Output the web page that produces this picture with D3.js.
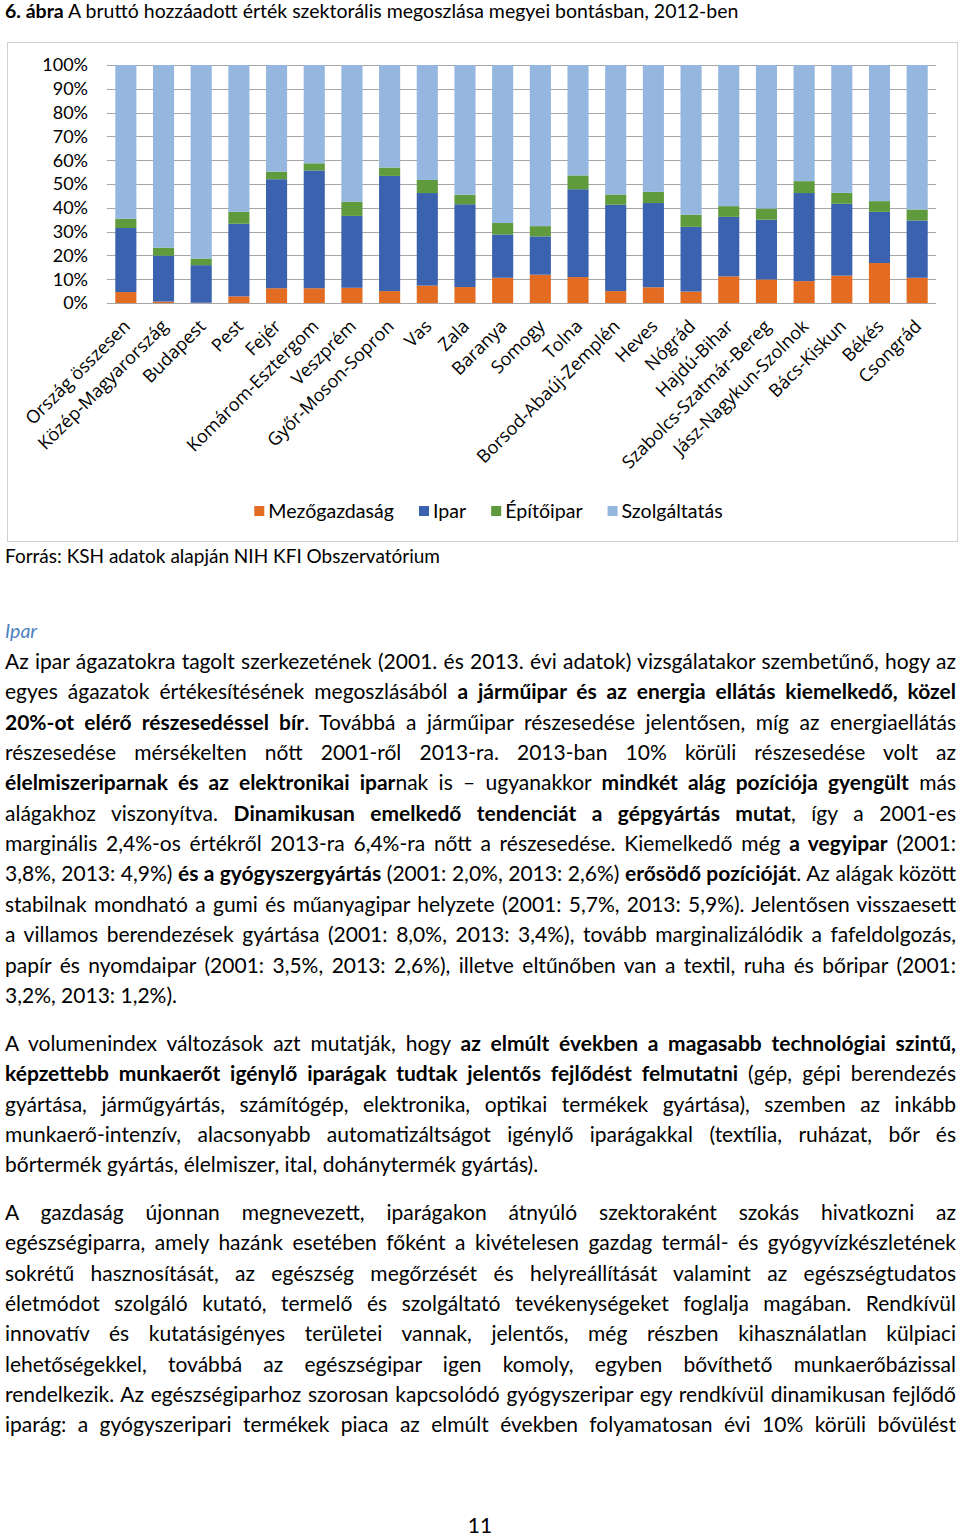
<!DOCTYPE html>
<html><head><meta charset="utf-8">
<script src="https://cdn.jsdelivr.net/npm/d3@7"></script>
<style>
body{margin:0;background:#fff;}
#page{position:relative;width:960px;height:1536px;font-family:Lato,'Carlito',sans-serif;color:#000;overflow:hidden;}
.ln{position:absolute;left:5px;white-space:nowrap;font-size:21px;line-height:30px;}
.ln b{font-weight:700;}
svg{position:absolute;left:0;top:0;}
</style></head><body><div id="page"></div>
<script>
// ---- chart data ----
const categories = ["Ország összesen","Közép-Magyarország","Budapest","Pest","Fejér","Komárom-Esztergom","Veszprém","Győr-Moson-Sopron","Vas","Zala","Baranya","Somogy","Tolna","Borsod-Abaúj-Zemplén","Heves","Nógrád","Hajdú-Bihar","Szabolcs-Szatmár-Bereg","Jász-Nagykun-Szolnok","Bács-Kiskun","Békés","Csongrád"];
const mezogazdasag = [4.6,0.6,0.1,2.8,6.2,6.2,6.4,5.0,7.3,6.7,10.6,11.9,10.9,5.0,6.6,4.8,11.2,9.9,9.2,11.5,16.8,10.6];
const ipar         = [26.9,19.3,15.8,30.5,45.8,49.5,30.2,48.4,38.9,34.8,18.2,16.1,36.9,36.3,35.4,27.2,25.0,25.1,37.0,30.2,21.5,24.1];
const epitoipar    = [3.9,3.3,2.8,5.0,3.2,3.0,5.9,3.5,5.5,4.0,4.8,4.3,5.8,4.3,4.7,5.1,4.5,4.7,5.0,4.6,4.5,4.6];
const szolgaltatas = [64.6,76.8,81.3,61.7,44.8,41.3,57.5,43.1,48.3,54.5,66.4,67.7,46.4,54.4,53.3,62.9,59.3,60.3,48.8,53.7,57.2,60.7];
const seriesNames  = ["Mezőgazdaság","Ipar","Építőipar","Szolgáltatás"];
const seriesColors = ["#E36C22","#3A62AE","#5F9A3C","#95B6DE"];
const yTicks = [0,10,20,30,40,50,60,70,80,90,100];
const yTickLabels = ["0%","10%","20%","30%","40%","50%","60%","70%","80%","90%","100%"];

const titleBold = "6. ábra";
const titleText = " A bruttó hozzáadott érték szektorális megoszlása megyei bontásban, 2012-ben";
const sourceText = "Forrás: KSH adatok alapján NIH KFI Obszervatórium";
const pageNumber = "11";

// ---- body text ----
const paragraphs = [
 {top:646, lines:[
  "Az ipar ágazatokra tagolt szerkezetének (2001. és 2013. évi adatok) vizsgálatakor szembetűnő, hogy az",
  "egyes ágazatok értékesítésének megoszlásából <b>a járműipar és az energia ellátás kiemelkedő, közel</b>",
  "<b>20%-ot elérő részesedéssel bír</b>. Továbbá a járműipar részesedése jelentősen, míg az energiaellátás",
  "részesedése mérsékelten nőtt 2001-ről 2013-ra. 2013-ban 10% körüli részesedése volt az",
  "<b>élelmiszeriparnak és az elektronikai ipar</b>nak is – ugyanakkor <b>mindkét alág pozíciója gyengült</b> más",
  "alágakhoz viszonyítva. <b>Dinamikusan emelkedő tendenciát a gépgyártás mutat</b>, így a 2001-es",
  "marginális 2,4%-os értékről 2013-ra 6,4%-ra nőtt a részesedése. Kiemelkedő még <b>a vegyipar</b> (2001:",
  "3,8%, 2013: 4,9%) <b>és a gyógyszergyártás</b> (2001: 2,0%, 2013: 2,6%) <b>erősödő pozícióját</b>. Az alágak között",
  "stabilnak mondható a gumi és műanyagipar helyzete (2001: 5,7%, 2013: 5,9%). Jelentősen visszaesett",
  "a villamos berendezések gyártása (2001: 8,0%, 2013: 3,4%), tovább marginalizálódik a fafeldolgozás,",
  "papír és nyomdaipar (2001: 3,5%, 2013: 2,6%), illetve eltűnőben van a textil, ruha és bőripar (2001:",
  "3,2%, 2013: 1,2%)."], last:true},
 {top:1028, lines:[
  "A volumenindex változások azt mutatják, hogy <b>az elmúlt években a magasabb technológiai szintű,</b>",
  "<b>képzettebb munkaerőt igénylő iparágak tudtak jelentős fejlődést felmutatni</b> (gép, gépi berendezés",
  "gyártása, járműgyártás, számítógép, elektronika, optikai termékek gyártása), szemben az inkább",
  "munkaerő-intenzív, alacsonyabb automatizáltságot igénylő iparágakkal (textília, ruházat, bőr és",
  "bőrtermék gyártás, élelmiszer, ital, dohánytermék gyártás)."], last:true},
 {top:1197, lines:[
  "A gazdaság újonnan megnevezett, iparágakon átnyúló szektoraként szokás hivatkozni az",
  "egészségiparra, amely hazánk esetében főként a kivételesen gazdag termál- és gyógyvízkészletének",
  "sokrétű hasznosítását, az egészség megőrzését és helyreállítását valamint az egészségtudatos",
  "életmódot szolgáló kutató, termelő és szolgáltató tevékenységeket foglalja magában. Rendkívül",
  "innovatív és kutatásigényes területei vannak, jelentős, még részben kihasználatlan külpiaci",
  "lehetőségekkel, továbbá az egészségipar igen komoly, egyben bővíthető munkaerőbázissal",
  "rendelkezik. Az egészségiparhoz szorosan kapcsolódó gyógyszeripar egy rendkívül dinamikusan fejlődő",
  "iparág: a gyógyszeripari termékek piaca az elmúlt években folyamatosan évi 10% körüli bővülést"], last:false}
];
const lineStep = 30.35;

const page = d3.select("#page");
const svg = page.append("svg").attr("width",960).attr("height",600);

// title
const tt = svg.append("text").attr("x",5).attr("y",18).attr("font-size",19.5).attr("font-family","Lato");
tt.append("tspan").attr("font-weight","bold").text(titleBold);
tt.append("tspan").text(titleText);

// chart frame
svg.append("rect").attr("x",7.5).attr("y",42.5).attr("width",950).attr("height",499)
  .attr("fill","none").attr("stroke","#D0D0D0").attr("stroke-width",1);

const x = d3.scaleBand().domain(categories).range([107,936]).paddingInner(0.44).paddingOuter(0.22);
const y = d3.scaleLinear().domain([0,100]).range([303,65]);

// gridlines
svg.append("g").selectAll("line").data(yTicks).join("line")
  .attr("x1",107).attr("x2",936).attr("y1",d=>Math.round(y(d))+0.5).attr("y2",d=>Math.round(y(d))+0.5)
  .attr("stroke","#A6A6A6").attr("stroke-width",1);

// y tick labels
svg.append("g").selectAll("text").data(yTicks).join("text")
  .attr("x",88).attr("y",d=>y(d)).attr("dy","0.35em").attr("text-anchor","end")
  .attr("font-size",18).attr("font-family","Lato").attr("fill","#000")
  .text((d,i)=>yTickLabels[i]);

// stacked bars
const rows = categories.map((c,i)=>({cat:c,"Mezőgazdaság":mezogazdasag[i],"Ipar":ipar[i],"Építőipar":epitoipar[i],"Szolgáltatás":szolgaltatas[i]}));
const stack = d3.stack().keys(seriesNames)(rows);
svg.append("g").selectAll("g").data(stack).join("g").attr("fill",(d,i)=>seriesColors[i])
  .selectAll("rect").data(d=>d).join("rect")
  .attr("x",d=>x(d.data.cat)).attr("width",x.bandwidth())
  .attr("y",d=>y(d[1])).attr("height",d=>y(d[0])-y(d[1]));

// category labels
svg.append("g").selectAll("text").data(categories).join("text")
  .attr("transform",d=>`translate(${x(d)+x.bandwidth()/2+1},${323}) rotate(-45)`)
  .attr("text-anchor","end").attr("dy","0.35em")
  .attr("font-size",18).attr("font-family","'Open Sans'").attr("fill","#000")
  .text(d=>d);

// legend
const lg = svg.append("g");
const items = seriesNames.map((n,i)=>{
  const g = lg.append("g");
  g.append("rect").attr("width",10).attr("height",10).attr("y",-5).attr("fill",seriesColors[i]);
  const t = g.append("text").attr("x",14).attr("dy","0.35em").attr("font-size",19.6).attr("font-family","Lato").text(n);
  return {g, w:14+t.node().getComputedTextLength()};
});
const gap = 25;
const total = d3.sum(items,d=>d.w)+gap*(items.length-1);
let cx = 488.5 - total/2;
items.forEach(it=>{it.g.attr("transform",`translate(${cx},511)`); cx += it.w+gap;});

// source
svg.append("text").attr("x",5).attr("y",556).attr("dy","0.35em").attr("font-size",19).attr("font-family","Lato").text(sourceText);

// heading
page.append("div").attr("class","ln").style("top",(631-15)+"px").style("font-size","19.5px").style("font-style","italic").style("color","#4F81BD").text("Ipar");

// paragraphs
const W = 951;
paragraphs.forEach(p=>{
  p.lines.forEach((ln,i)=>{
    const div = page.append("div").attr("class","ln").style("top",(p.top+i*lineStep)+"px");
    const span = div.append("span").html(ln);
    const isLast = p.last && i===p.lines.length-1;
    if(!isLast){
      const w = span.node().getBoundingClientRect().width;
      const spaces = (span.node().textContent.match(/ /g)||[]).length;
      if(spaces>0) div.style("word-spacing",((W-w)/spaces)+"px");
    }
  });
});

// page number (svg text, centred)
const pn = page.append("svg").attr("width",120).attr("height",40)
  .style("left","420px").style("top","1506px");
pn.append("text").attr("x",60).attr("y",20).attr("dy","0.35em").attr("text-anchor","middle")
  .attr("font-size",21).attr("font-family","Lato").text(pageNumber);
</script></body></html>
